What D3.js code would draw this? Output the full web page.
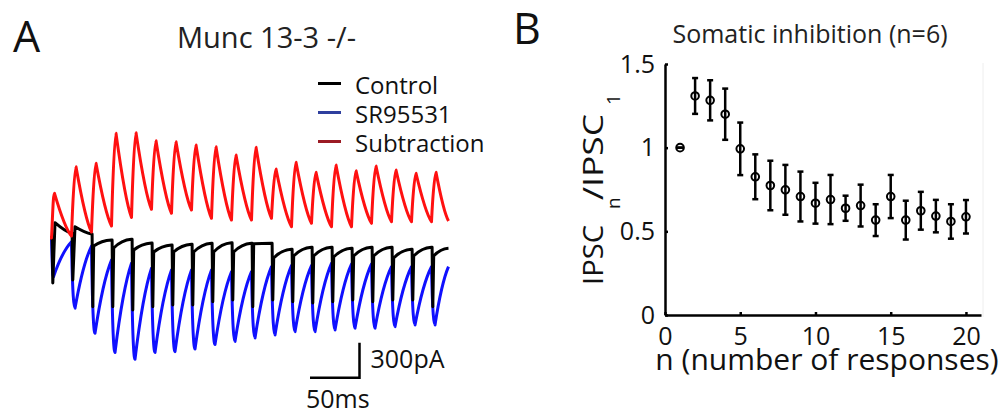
<!DOCTYPE html>
<html lang="en">
<head>
<meta charset="UTF-8">
<title>Munc 13-3 -/- somatic inhibition</title>
<script src="https://d3js.org/d3.v7.min.js"></script>
<style>
  body { margin: 0; background: #fff; }
  svg { display: block; font-family: "Open Sans", sans-serif; }
  .axis path, .axis line { stroke: #000; stroke-width: 2.5; }
  .axis text { font-family: "Open Sans", sans-serif; font-size: 25px; fill: #111; }
</style>
</head>
<body>
<svg id="chart" width="1002" height="411"></svg>
<script>
// ---- panel A: traces, one value per stimulus (pA), 50 Hz train ----
var pulseTimes = [0, 20, 40, 60, 80, 100, 120, 140, 160, 180, 200, 220, 240, 260, 280, 300, 320, 340, 360, 380];
var traceEnd = 397;

var subtractionPeak = [383, 611, 640, 897, 903, 834, 825, 797, 783, 711, 777, 591, 649, 563, 626, 577, 617, 583, 555, 563];
var subtractionEnd  = [17, 51, 103, 177, 246, 212, 240, 169, 154, 154, 169, 97, 126, 97, 97, 126, 140, 140, 140, 146];

var srPeak = [-332, -603, -817, -981, -1040, -981, -974, -951, -913, -887, -857, -831, -803, -803, -789, -774, -774, -760, -746, -746];
var srEnd  = [-32, -69, -189, -217, -260, -274, -274, -274, -289, -289, -246, -237, -237, -217, -223, -223, -246, -246, -246, -246];

var controlDip  = [-386, -360, -589, -589, -617, -589, -574, -574, -546, -531, -589, -531, -546, -557, -546, -531, -546, -531, -531, -589];
var controlPost = [131, 97, -69, -86, -103, -120, -120, -120, -120, -120, -50, -171, -154, -154, -163, -154, -154, -171, -154, -154];
var controlEnd  = [40, 34, -17, -11, -43, -60, -54, -45, -40, -45, -45, -97, -80, -80, -88, -80, -80, -97, -80, -88];

var legendNames = ["Control", "SR95531", "Subtraction"];
var legendColors = ["#000000", "#2f3f9e", "#9b1b24"];

// ---- panel B: IPSCn / IPSC1 ----
var nResp = [1, 2, 3, 4, 5, 6, 7, 8, 9, 10, 11, 12, 13, 14, 15, 16, 17, 18, 19, 20];
var ratioMean = [1.0, 1.309, 1.283, 1.2, 0.993, 0.826, 0.774, 0.748, 0.708, 0.668, 0.69, 0.638, 0.654, 0.567, 0.708, 0.567, 0.623, 0.591, 0.559, 0.587];
var ratioErr  = [0, 0.107, 0.12, 0.153, 0.157, 0.134, 0.148, 0.149, 0.149, 0.122, 0.147, 0.075, 0.125, 0.095, 0.129, 0.116, 0.113, 0.097, 0.103, 0.1];
var xTicks = [0, 5, 10, 15, 20];
var yTicks = [0, 0.5, 1, 1.5];
var yTickLabels = ["0", "0.5", "1", "1.5"];

var svg = d3.select("#chart");

// scales for traces
var tx = d3.scaleLinear().domain([0, 400]).range([51.5, 451.5]);
var ty = d3.scaleLinear().domain([0, 300]).range([238, 203]);

function decay(p, t0, v0, t1, v1, k1, k2) {
  var dx = t1 - t0;
  p.bezierCurveTo(tx(t0 + dx / 3), ty(v0 + (v1 - v0) * k1),
                  tx(t0 + 2 * dx / 3), ty(v0 + (v1 - v0) * k2),
                  tx(t1), ty(v1));
}

function subtractionPath() {
  var p = d3.path(), prev = 0;
  p.moveTo(tx(-1.5), ty(0));
  pulseTimes.forEach(function(t, i) {
    var pk = subtractionPeak[i], end = subtractionEnd[i];
    var tEnd = Math.min(t + 20, traceEnd);
    var tp = i == 0 ? t + 3 : t + 4.5;
    p.lineTo(tx(t), ty(prev));
    p.bezierCurveTo(tx(t + 1.2), ty(prev + (pk - prev) * 0.5), tx(tp - 1.4), ty(pk), tx(tp), ty(pk));
    decay(p, tp, pk, tEnd, end, 0.45, 0.85);
    prev = end;
  });
  return p.toString();
}

function srPath() {
  var p = d3.path(), prev = 0;
  p.moveTo(tx(-1.5), ty(0));
  pulseTimes.forEach(function(t, i) {
    var pk = srPeak[i], end = srEnd[i];
    var tEnd = Math.min(t + 20, traceEnd);
    var tp = i == 0 ? t + 2 : t + 3.5;
    p.lineTo(tx(t), ty(prev));
    p.bezierCurveTo(tx(t + 1), ty(prev + (pk - prev) * 0.85), tx(tp - 1), ty(pk), tx(tp), ty(pk));
    decay(p, tp, pk, tEnd, end, 0.5, 0.82);
    prev = end;
  });
  return p.toString();
}

function controlPath() {
  var p = d3.path(), prev = 0;
  p.moveTo(tx(-1.5), ty(0));
  pulseTimes.forEach(function(t, i) {
    var tEnd = Math.min(t + 20, traceEnd);
    var tp = i < 2 ? t + 3.5 : t + 2.2;
    p.lineTo(tx(t + 0.6), ty(prev));
    p.lineTo(tx(t + 1.3), ty(controlDip[i]));
    p.lineTo(tx(tp), ty(controlPost[i]));
    decay(p, tp, controlPost[i], tEnd, controlEnd[i], i < 2 ? 0.45 : 0.7, i < 2 ? 0.85 : 0.95);
    prev = controlEnd[i];
  });
  return p.toString();
}

var traces = svg.append("g").attr("fill", "none").attr("stroke-width", 3).attr("stroke-linejoin", "round");
traces.append("path").attr("d", srPath()).attr("stroke", "#1010ff");
traces.append("path").attr("d", controlPath()).attr("stroke", "#000");
traces.append("path").attr("d", subtractionPath()).attr("stroke", "#ff1010");

// labels panel A
svg.append("text").attr("x", 13).attr("y", 51.5).style("font-size", "43px").attr("fill", "#111").text("A");
svg.append("text").attr("x", 266.5).attr("y", 47.5).attr("text-anchor", "middle")
  .style("font-size", "29px").attr("fill", "#222").text("Munc 13-3 -/-");

var legend = svg.append("g");
legendNames.forEach(function(name, i) {
  var ly = 83.5 + i * 29;
  legend.append("line").attr("x1", 318).attr("x2", 341).attr("y1", ly).attr("y2", ly)
    .attr("stroke", legendColors[i]).attr("stroke-width", 3);
  legend.append("text").attr("x", 355).attr("y", ly + 10).style("font-size", "24px")
    .attr("fill", "#111").text(name);
});

// scale bar: 50 ms x 300 pA
var sb = svg.append("g").attr("fill", "none").attr("stroke", "#000").attr("stroke-width", 2.5);
sb.append("path").attr("d", "M" + tx(258.5) + "," + ty(-1197) + "H" + tx(308) + "V" + ty(-897));
svg.append("text").attr("x", 370.5).attr("y", 368).style("font-size", "25px").attr("fill", "#111").text("300pA");
svg.append("text").attr("x", 306).attr("y", 408).style("font-size", "25px").attr("fill", "#111").text("50ms");

// ---- panel B ----
var x = d3.scaleLinear().domain([0, 21]).range([665, 981]);
var y = d3.scaleLinear().domain([0, 1.5]).range([315, 64]);

svg.append("line").attr("x1", 983).attr("x2", 983).attr("y1", 63).attr("y2", 317)
  .attr("stroke", "#eeeeee").attr("stroke-width", 1);

svg.append("g").attr("class", "axis").attr("transform", "translate(0,315)")
  .call(d3.axisBottom(x).tickValues(xTicks).tickSize(-3).tickSizeOuter(0).tickPadding(12));
svg.append("g").attr("class", "axis").attr("transform", "translate(665,0)")
  .call(d3.axisLeft(y).tickValues(yTicks).tickSize(-3).tickSizeOuter(0).tickPadding(10)
    .tickFormat(function(d, i) { return yTickLabels[i]; }));

var pts = svg.append("g");
nResp.forEach(function(n, i) {
  var m = ratioMean[i], e = ratioErr[i];
  var g = pts.append("g").attr("stroke", "#000").attr("stroke-width", 2.5);
  g.append("line").attr("x1", x(n)).attr("x2", x(n)).attr("y1", y(m - e)).attr("y2", y(m + e));
  g.append("line").attr("x1", x(n) - 3).attr("x2", x(n) + 3).attr("y1", y(m - e)).attr("y2", y(m - e));
  g.append("line").attr("x1", x(n) - 3).attr("x2", x(n) + 3).attr("y1", y(m + e)).attr("y2", y(m + e));
  g.append("circle").attr("cx", x(n)).attr("cy", y(m)).attr("r", 3.8).attr("fill", "none").attr("stroke-width", 2);
});

svg.append("text").attr("x", 513).attr("y", 44).style("font-size", "43px").attr("fill", "#111").text("B");
svg.append("text").attr("x", 810).attr("y", 43).attr("text-anchor", "middle")
  .style("font-size", "25px").attr("fill", "#222").text("Somatic inhibition (n=6)");
svg.append("text").attr("x", 827).attr("y", 370).attr("text-anchor", "middle")
  .style("font-size", "30px").attr("fill", "#111").text("n (number of responses)");

// y label: IPSC_n / IPSC_1, rotated
var yl = svg.append("g").attr("transform", "translate(603,285) rotate(-90)").attr("fill", "#111");
yl.append("text").attr("x", 0).attr("y", 0).style("font-size", "28px")
  .attr("textLength", 60).attr("lengthAdjust", "spacingAndGlyphs").text("IPSC");
yl.append("text").attr("x", 76).attr("y", 17).style("font-size", "19px").text("n");
yl.append("text").attr("x", 85).attr("y", 0).style("font-size", "28px")
  .attr("textLength", 86).attr("lengthAdjust", "spacingAndGlyphs").text("/IPSC");
yl.append("text").attr("x", 180).attr("y", 17).style("font-size", "19px").text("1");
</script>
</body>
</html>
